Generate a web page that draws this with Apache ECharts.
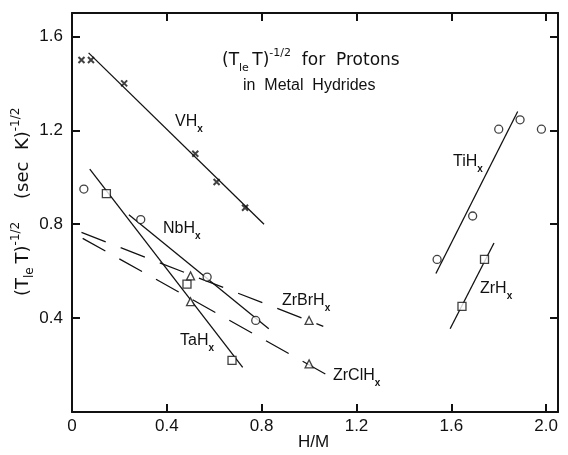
<!DOCTYPE html>
<html>
<head>
<meta charset="utf-8">
<script src="https://cdn.jsdelivr.net/npm/echarts@6/dist/echarts.min.js"></script>
<style>
  html, body { margin: 0; padding: 0; background: #fff; }
  #chart { width: 568px; height: 455px; }
</style>
</head>
<body>
<div id="chart"></div>
<script>
// VHx (crosses)
const vhX = [0.04, 0.08, 0.22, 0.52, 0.61, 0.73];
const vhY = [1.50, 1.50, 1.40, 1.10, 0.98, 0.87];
const vhFitX = [0.07, 0.81];
const vhFitY = [1.53, 0.80];
// NbHx (circles)
const nbX = [0.05, 0.29, 0.57, 0.775];
const nbY = [0.95, 0.82, 0.575, 0.39];
const nbFitX = [0.24, 0.83];
const nbFitY = [0.84, 0.355];
// TaHx (squares)
const taX = [0.145, 0.485, 0.675];
const taY = [0.93, 0.545, 0.22];
const taFitX = [0.075, 0.72];
const taFitY = [1.035, 0.19];
// ZrBrHx (triangles, dashed fit)
const zrbrX = [0.50, 1.00];
const zrbrY = [0.58, 0.39];
const zrbrFitX = [0.04, 1.06];
const zrbrFitY = [0.765, 0.365];
// ZrClHx (triangles, dashed fit)
const zrclX = [0.50, 1.00];
const zrclY = [0.47, 0.205];
const zrclFitX = [0.045, 1.09];
const zrclFitY = [0.74, 0.15];
// TiHx (circles)
const tiX = [1.54, 1.69, 1.80, 1.89, 1.98];
const tiY = [0.65, 0.835, 1.205, 1.245, 1.205];
const tiFitX = [1.535, 1.88];
const tiFitY = [0.59, 1.28];
// ZrHx (squares)
const zrhX = [1.645, 1.74];
const zrhY = [0.45, 0.65];
const zrhFitX = [1.595, 1.78];
const zrhFitY = [0.355, 0.72];

const xTicks = ['0', '0.4', '0.8', '1.2', '1.6', '2.0'];
const yTicks = ['0.4', '0.8', '1.2', '1.6'];

const FONT = 'Liberation Sans';
const WIDE = 'DejaVu Sans';
const INK = '#111';

function pairs(xs, ys) {
  return xs.map((x, i) => [x, ys[i]]);
}

function pointSeries(xs, ys, symbol, size, bw) {
  return {
    type: 'scatter',
    data: pairs(xs, ys),
    symbol: symbol,
    symbolSize: size,
    itemStyle: { color: '#fff', borderColor: INK, borderWidth: bw || 1.3 },
    z: 5,
    silent: true
  };
}

function fitSeries(xs, ys, dashed) {
  return {
    type: 'line',
    data: pairs(xs, ys),
    showSymbol: false,
    lineStyle: { color: INK, width: 1.3, type: dashed ? [26, 16] : 'solid' },
    z: 3,
    silent: true
  };
}

// label with subscript x, e.g. VH_x
function subLabel(left, top, main) {
  return {
    type: 'text',
    left: left,
    top: top,
    style: {
      text: '{m|' + main + '}{s|x}',
      rich: {
        m: { fontFamily: FONT, fontSize: 16, lineHeight: 20, verticalAlign: 'top', fill: INK },
        s: { fontFamily: FONT, fontSize: 10, lineHeight: 10, verticalAlign: 'bottom', fill: INK, fontWeight: 'bold' }
      }
    }
  };
}

// rich styles for (T_le T)^-1/2
function richT(size, small) {
  return {
    m: { fontFamily: WIDE, fontSize: size, lineHeight: 26, verticalAlign: 'middle', fill: INK },
    s: { fontFamily: WIDE, fontSize: small, lineHeight: small, verticalAlign: 'bottom', fill: INK },
    p: { fontFamily: WIDE, fontSize: small, lineHeight: small, verticalAlign: 'top', fill: INK }
  };
}

const chart = echarts.init(document.getElementById('chart'), null, { renderer: 'canvas' });

const axisCommon = {
  min: 0,
  interval: 0.4,
  axisLine: { show: true, onZero: false, lineStyle: { color: INK, width: 2 } },
  axisTick: { show: true, inside: true, length: 8, lineStyle: { color: INK, width: 2 } },
  splitLine: { show: false }
};

chart.setOption({
  animation: false,
  backgroundColor: '#fff',
  grid: { left: 72, right: 10, top: 13, bottom: 43 },
  xAxis: [
    Object.assign({}, axisCommon, {
      type: 'value', max: 2.05, position: 'bottom',
      axisLabel: {
        margin: 6, fontFamily: FONT, fontSize: 17, color: INK,
        formatter: v => {
          const i = Math.round(v / 0.4);
          return Math.abs(v - i * 0.4) < 1e-6 ? (xTicks[i] || '') : '';
        }
      }
    }),
    Object.assign({}, axisCommon, {
      type: 'value', max: 2.05, position: 'top', axisLabel: { show: false }
    })
  ],
  yAxis: [
    Object.assign({}, axisCommon, {
      type: 'value', max: 1.7, position: 'left',
      axisLabel: {
        margin: 9, fontFamily: FONT, fontSize: 17, color: INK,
        formatter: v => {
          const i = Math.round(v / 0.4);
          return (i > 0 && Math.abs(v - i * 0.4) < 1e-6) ? (yTicks[i - 1] || '') : '';
        }
      }
    }),
    Object.assign({}, axisCommon, {
      type: 'value', max: 1.7, position: 'right', axisLabel: { show: false }
    })
  ],
  series: [
    fitSeries(vhFitX, vhFitY, false),
    fitSeries(nbFitX, nbFitY, false),
    fitSeries(taFitX, taFitY, false),
    fitSeries(zrbrFitX, zrbrFitY, true),
    fitSeries(zrclFitX, zrclFitY, true),
    fitSeries(tiFitX, tiFitY, false),
    fitSeries(zrhFitX, zrhFitY, false),
    pointSeries(vhX, vhY, 'path://M0,0L10,10M10,0L0,10', 6, 2),
    pointSeries(nbX, nbY, 'circle', 8),
    pointSeries(taX, taY, 'rect', 8),
    pointSeries(zrbrX, zrbrY, 'triangle', 8),
    pointSeries(zrclX, zrclY, 'triangle', 8),
    pointSeries(tiX, tiY, 'circle', 8),
    pointSeries(zrhX, zrhY, 'rect', 8)
  ],
  graphic: [
    // title
    {
      type: 'text', left: 222, top: 48,
      style: {
        text: '{m|(T}{s|le }{m|T)}{p|-1/2}{m|  for  Protons}',
        rich: richT(17, 11)
      }
    },
    {
      type: 'text', left: 243, top: 78,
      style: { text: 'in  Metal  Hydrides', fontFamily: FONT, fontSize: 16, fill: INK }
    },
    // y axis title, rotated
    {
      type: 'text', x: 10, y: 296, rotation: Math.PI / 2,
      style: {
        text: '{m|(T}{s|le }{m|T)}{p|-1/2}{m|    (sec  K)}{p|-1/2}',
        rich: richT(18, 12)
      }
    },
    // x axis title
    {
      type: 'text', left: 298, top: 434,
      style: { text: 'H/M', fontFamily: FONT, fontSize: 17, fill: INK }
    },
    subLabel(175, 114, 'VH'),
    subLabel(163, 221, 'NbH'),
    subLabel(282, 293, 'ZrBrH'),
    subLabel(180, 333, 'TaH'),
    subLabel(333, 368, 'ZrClH'),
    subLabel(453, 154, 'TiH'),
    subLabel(480, 281, 'ZrH')
  ]
});
</script>
</body>
</html>
